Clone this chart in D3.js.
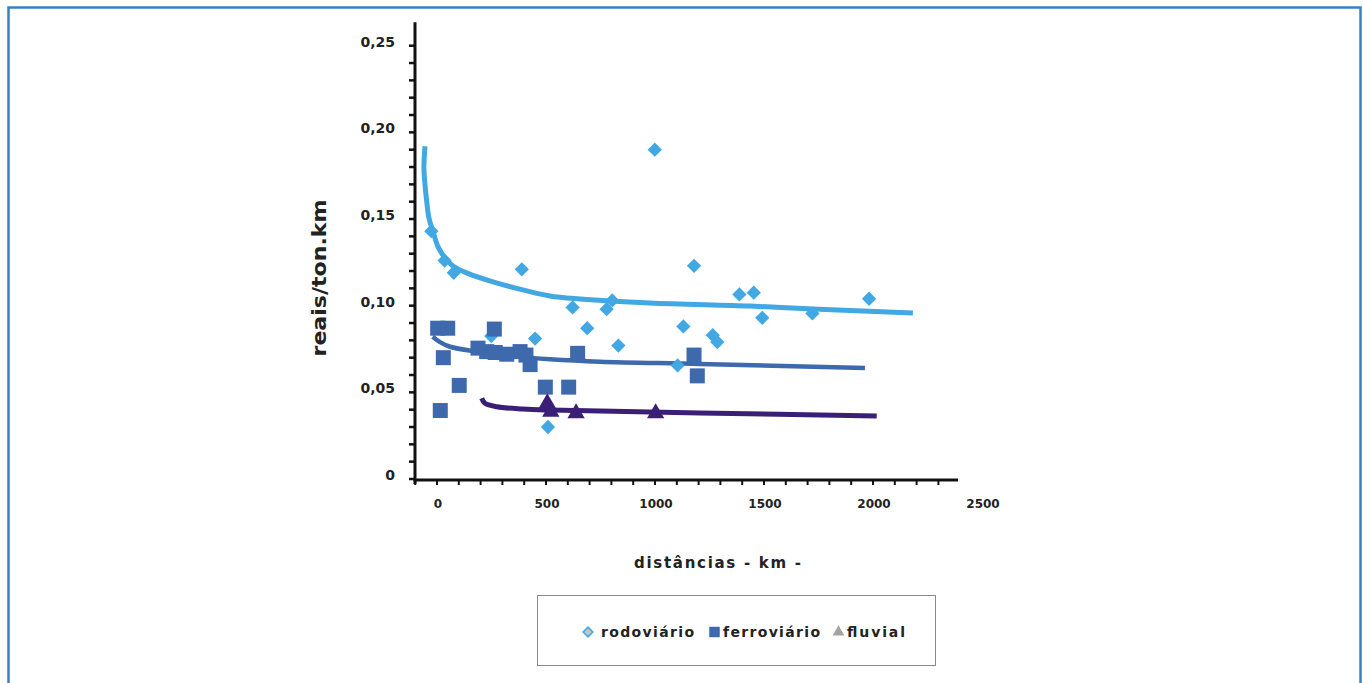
<!DOCTYPE html>
<html>
<head>
<meta charset="utf-8">
<script src="https://cdn.jsdelivr.net/npm/d3@7"></script>
<style>
  body { margin: 0; background: #fff; }
  svg { display: block; }
  text { font-family: "DejaVu Sans", sans-serif; font-weight: bold; fill: #222; }
</style>
</head>
<body>
<div id="chart"></div>
<script>
// distance (km) , cost (reais/ton.km)
var rodoviario = [
  [-26, 0.143], [35, 0.126], [77, 0.119], [389, 0.121], [249, 0.0825],
  [450, 0.081], [509, 0.030], [622, 0.099], [689, 0.087], [778, 0.098],
  [804, 0.103], [832, 0.077], [999, 0.190], [1104, 0.0655], [1130, 0.088],
  [1179, 0.123], [1265, 0.083], [1286, 0.079], [1387, 0.1065], [1453, 0.1075],
  [1492, 0.093], [1722, 0.0955], [1982, 0.104]
]
var ferroviario = [
  [3, 0.087], [49, 0.087], [29, 0.070], [15, 0.0395], [102, 0.054],
  [188, 0.0755], [228, 0.0735], [263, 0.0865], [267, 0.073], [320, 0.072],
  [381, 0.0735], [408, 0.0715], [427, 0.066], [497, 0.053], [604, 0.053],
  [645, 0.0725], [1179, 0.0715], [1194, 0.0595]
]
var fluvial = [
  [506, 0.0437], [522, 0.0388], [638, 0.038], [1003, 0.038]
]

// trend curves
var trendRodo = [
  [-55, 0.192], [-60, 0.1795], [-55, 0.1697], [-47, 0.160], [-37, 0.1506],
  [-18, 0.1427], [5, 0.1339], [37, 0.1275], [73, 0.1229], [136, 0.1189],
  [257, 0.1137], [394, 0.1091], [518, 0.1056], [656, 0.1039], [977, 0.1016],
  [1436, 0.0998], [1725, 0.0981], [2183, 0.0958]
]
var trendFerro = [
  [-20, 0.0821], [14, 0.079], [60, 0.0763], [182, 0.0735], [366, 0.0706],
  [518, 0.0691], [748, 0.0677], [1206, 0.0664], [1963, 0.064]
]
var trendFluvial = [
  [205, 0.0466], [220, 0.0437], [274, 0.0417], [394, 0.0404], [518, 0.0398],
  [748, 0.0392], [1206, 0.0381], [2017, 0.0364]
]

var xLabels = [0, 500, 1000, 1500, 2000, 2500]
var yLabels = [0, 0.05, 0.10, 0.15, 0.20, 0.25]
var legendNames = ["rodoviário", "ferroviário", "fluvial"]

var W = 1363, H = 683
var cLight = "#41a8e4", cBlue = "#3e69ad", cPurple = "#3b1f76"

var svg = d3.select("#chart").append("svg").attr("width", W).attr("height", H)

// outer frame
svg.append("rect")
  .attr("x", 8.5).attr("y", 7.5).attr("width", 1352).attr("height", 720)
  .attr("fill", "none").attr("stroke", "#3b80c0").attr("stroke-width", 2.5)

var x = d3.scaleLinear().domain([0, 2000]).range([437, 873])
var y = d3.scaleLinear().domain([0, 0.25]).range([479, 45.7])

// axes lines
svg.append("line")
  .attr("x1", 415).attr("x2", 415).attr("y1", y(0.2635)).attr("y2", 484)
  .attr("stroke", "#111").attr("stroke-width", 3)
svg.append("line")
  .attr("x1", 413.5).attr("x2", x(2390)).attr("y1", 480).attr("y2", 480)
  .attr("stroke", "#111").attr("stroke-width", 3)

// minor ticks
svg.selectAll(".yt").data(d3.range(0, 26)).enter().append("line")
  .attr("x1", 409).attr("x2", 415)
  .attr("y1", function(d) { return y(d / 100) }).attr("y2", function(d) { return y(d / 100) })
  .attr("stroke", "#111").attr("stroke-width", 2.5)
svg.selectAll(".xt").data(d3.range(-1, 24)).enter().append("line")
  .attr("x1", function(d) { return x(d * 100) }).attr("x2", function(d) { return x(d * 100) })
  .attr("y1", 480).attr("y2", 485)
  .attr("stroke", "#111").attr("stroke-width", 2)

// tick labels
svg.selectAll(".yl").data(yLabels).enter().append("text")
  .attr("x", 395).attr("y", function(d) { return y(d) + 1 })
  .attr("text-anchor", "end").attr("font-size", 14)
  .text(function(d) { return d == 0 ? "0" : d3.format(".2f")(d).replace(".", ",") })
svg.selectAll(".xl").data(xLabels).enter().append("text")
  .attr("x", function(d) { return x(d) + 1 }).attr("y", 508)
  .attr("text-anchor", "middle").attr("font-size", 12)
  .text(function(d) { return d })

// axis titles
svg.append("text")
  .attr("transform", "translate(326,278) rotate(-90)")
  .attr("text-anchor", "middle").attr("font-size", 20)
  .attr("textLength", 157).attr("lengthAdjust", "spacingAndGlyphs")
  .text("reais/ton.km")
svg.append("text")
  .attr("x", 634).attr("y", 568).attr("font-size", 15)
  .attr("textLength", 167).attr("lengthAdjust", "spacing")
  .text("distâncias - km -")

// trend lines
var line = d3.line()
  .x(function(d) { return x(d[0]) })
  .y(function(d) { return y(d[1]) })
  .curve(d3.curveCatmullRom.alpha(0.5))

function trend(data, color, width) {
  svg.append("path").attr("d", line(data))
    .attr("fill", "none").attr("stroke", color)
    .attr("stroke-width", width).attr("stroke-linecap", "butt")
}
trend(trendRodo, cLight, 5)
trend(trendFerro, cBlue, 4.5)
trend(trendFluvial, cPurple, 5)

// markers
var diamond = d3.symbol().type(d3.symbolDiamond2).size(130)
var square = d3.symbol().type(d3.symbolSquare).size(225)
var triangle = d3.symbol().type(d3.symbolTriangle).size(130)

function markers(data, sym, color) {
  svg.append("g").selectAll("path").data(data).enter().append("path")
    .attr("transform", function(d) { return "translate(" + x(d[0]) + "," + y(d[1]) + ")" })
    .attr("d", sym)
    .attr("fill", color)
}
markers(rodoviario, diamond, cLight)
markers(ferroviario, square, cBlue)
markers(fluvial, triangle, cPurple)

// legend
svg.append("rect")
  .attr("x", 537.5).attr("y", 595.5).attr("width", 398).attr("height", 70)
  .attr("fill", "#fff").attr("stroke", "#8a8a8a").attr("stroke-width", 1)

var legSyms = [
  d3.symbol().type(d3.symbolDiamond2).size(60),
  d3.symbol().type(d3.symbolSquare).size(110),
  d3.symbol().type(d3.symbolTriangle).size(60)
]
var legFill = ["#c4c4c4", cBlue, "#a3a3a3"]
var legStroke = [cLight, "none", "none"]
var legSymX = [588, 714.5, 838.5]
var legTextX = [601, 723, 847]
var legTextW = [93, 97, 58]

legendNames.forEach(function(n, i) {
  svg.append("path")
    .attr("transform", "translate(" + legSymX[i] + ",632)")
    .attr("d", legSyms[i]())
    .attr("fill", legFill[i]).attr("stroke", legStroke[i]).attr("stroke-width", 1.5)
  svg.append("text")
    .attr("x", legTextX[i]).attr("y", 637).attr("font-size", 14)
    .attr("textLength", legTextW[i]).attr("lengthAdjust", "spacing")
    .text(n)
})
</script>
</body>
</html>
